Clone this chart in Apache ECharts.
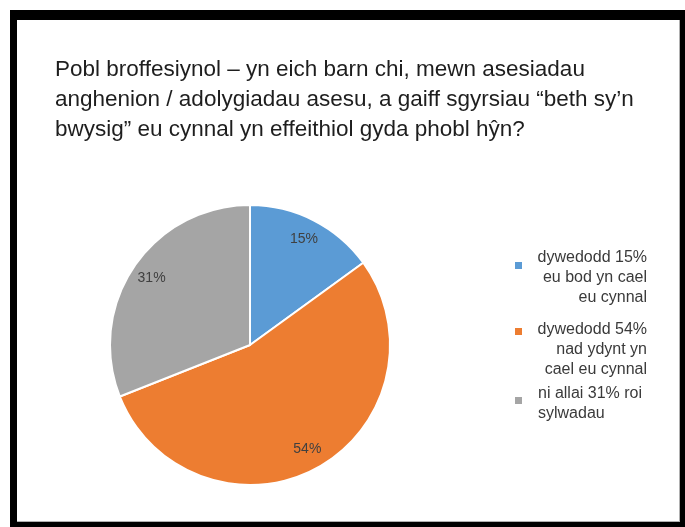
<!DOCTYPE html>
<html>
<head>
<meta charset="utf-8">
<script src="https://cdn.jsdelivr.net/npm/echarts@6/dist/echarts.min.js"></script>
<style>
  html, body { margin: 0; padding: 0; background: #fff; width: 685px; height: 527px; overflow: hidden; }
  #frame { position: absolute; left: 10px; top: 10px; width: 675px; height: 517px; background: #000; }
  #inner { position: absolute; left: 17px; top: 20px; width: 662px; height: 501px; background: #fff;
           border-right: 1px solid #b0b0b0; border-bottom: 1px solid #b0b0b0; }
  #chart { position: absolute; left: 0; top: 0; width: 685px; height: 527px; }
</style>
</head>
<body>
<div id="frame"></div>
<div id="inner"></div>
<div id="chart"></div>
<script>
// ---- data ----
const titleLines = [
  'Pobl broffesiynol – yn eich barn chi, mewn asesiadau',
  'anghenion / adolygiadau asesu, a gaiff sgyrsiau “beth sy’n',
  'bwysig” eu cynnal yn effeithiol gyda phobl hŷn?'
];
const categories = [
  'dywedodd 15% eu bod yn cael eu cynnal',
  'dywedodd 54% nad ydynt yn cael eu cynnal',
  'ni allai 31% roi sylwadau'
];
const values = [15, 54, 31];
const legendLines = [
  ['dywedodd 15%', 'eu bod yn cael', 'eu cynnal'],
  ['dywedodd 54%', 'nad ydynt yn', 'cael eu cynnal'],
  ['ni allai 31% roi', 'sylwadau']
];
const colors = ['#5B9BD5', '#ED7D31', '#A5A5A5'];

// ---- chart ----
const chart = echarts.init(document.getElementById('chart'), null, { renderer: 'canvas' });
const FONT = '"Liberation Sans", Arial, sans-serif';
const pieData = categories.map((c, i) => ({ name: c, value: values[i], itemStyle: { color: colors[i] } }));

// legend drawn as graphic (multi-line, mixed alignment as in the source)
const legendLayout = [
  { sqY: 262, textTop: 248, align: 'right' },
  { sqY: 328, textTop: 320, align: 'right' },
  { sqY: 397, textTop: 384, align: 'left' }
];
const graphics = [];
legendLines.forEach((lines, i) => {
  const L = legendLayout[i];
  graphics.push({
    type: 'rect', shape: { x: 515, y: L.sqY, width: 7, height: 7 },
    style: { fill: colors[i] }, silent: true
  });
  graphics.push({
    type: 'text',
    x: L.align === 'right' ? 647 : 538,
    y: L.textTop,
    style: {
      text: lines.join('\n'),
      font: '16px ' + FONT,
      fill: '#3a3a3a',
      align: L.align,
      verticalAlign: 'top',
      lineHeight: 20
    },
    silent: true
  });
});

chart.setOption({
  animation: false,
  title: {
    text: titleLines.join('\n'),
    left: 55,
    top: 55,
    padding: 0,
    textStyle: { fontFamily: FONT, fontSize: 22.5, fontWeight: 'normal', color: '#1e1e1e', lineHeight: 30 }
  },
  graphic: graphics,
  series: [
    {
      type: 'pie',
      center: [250, 345],
      radius: [0, 140],
      startAngle: 90,
      clockwise: true,
      data: pieData,
      label: { show: false },
      labelLine: { show: false },
      itemStyle: { borderColor: '#ffffff', borderWidth: 2 },
      emphasis: { disabled: true },
      silent: true
    },
    {
      type: 'pie',
      center: [250, 345],
      radius: [92, 140],
      startAngle: 90,
      clockwise: true,
      data: categories.map((c, i) => ({ name: c, value: values[i] })),
      itemStyle: { color: 'rgba(0,0,0,0)', borderWidth: 0 },
      label: {
        show: true, position: 'inside',
        formatter: '{c}%',
        fontFamily: FONT, fontSize: 14, color: '#404040'
      },
      labelLine: { show: false },
      emphasis: { disabled: true },
      silent: true
    }
  ]
});
</script>
</body>
</html>
